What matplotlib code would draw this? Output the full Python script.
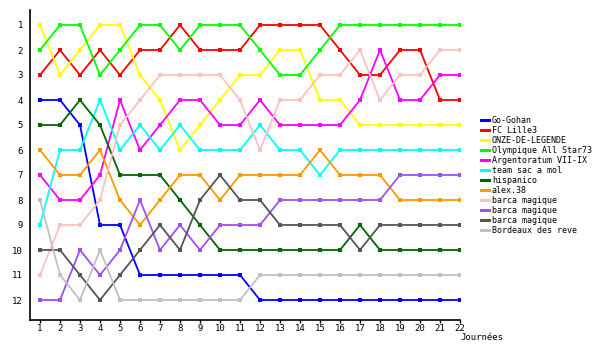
import matplotlib.pyplot as plt
from matplotlib.lines import Line2D

journees = list(range(1, 23))

equipes = ["Go-Gohan", "FC Lille3", "ONZE-DE-LEGENDE", "Olympique All Star73",
           "Argentoratum VII-IX", "team sac a mol", "hispanico", "alex.38",
           "barca magique", "barca magique", "barca magique", "Bordeaux des reve"]

couleurs = ["#0000ff", "#ff0000", "#ffff00", "#00ff00", "#ff00ff", "#00ffff",
            "#006600", "#ff9900", "#ffc0c0", "#a050f0", "#555555", "#c0c0c0"]

go_gohan = [4, 4, 5, 9, 9, 11, 11, 11, 11, 11, 11, 12, 12, 12, 12, 12, 12, 12, 12, 12, 12, 12]
fc_lille3 = [3, 2, 3, 2, 3, 2, 2, 1, 2, 2, 2, 1, 1, 1, 1, 2, 3, 3, 2, 2, 4, 4]
onze_legende = [1, 3, 2, 1, 1, 3, 4, 6, 5, 4, 3, 3, 2, 2, 4, 4, 5, 5, 5, 5, 5, 5]
olympique = [2, 1, 1, 3, 2, 1, 1, 2, 1, 1, 1, 2, 3, 3, 2, 1, 1, 1, 1, 1, 1, 1]
argentoratum = [7, 8, 8, 7, 4, 6, 5, 4, 4, 5, 5, 4, 5, 5, 5, 5, 4, 2, 4, 4, 3, 3]
sac_a_mol = [9, 6, 6, 4, 6, 5, 6, 5, 6, 6, 6, 5, 6, 6, 7, 6, 6, 6, 6, 6, 6, 6]
hispanico = [5, 5, 4, 5, 7, 7, 7, 8, 9, 10, 10, 10, 10, 10, 10, 10, 9, 10, 10, 10, 10, 10]
alex38 = [6, 7, 7, 6, 8, 9, 8, 7, 7, 8, 7, 7, 7, 7, 6, 7, 7, 7, 8, 8, 8, 8]
barca1 = [11, 9, 9, 8, 5, 4, 3, 3, 3, 3, 4, 6, 4, 4, 3, 3, 2, 4, 3, 3, 2, 2]
barca2 = [12, 12, 10, 11, 10, 8, 10, 9, 10, 9, 9, 9, 8, 8, 8, 8, 8, 8, 7, 7, 7, 7]
barca3 = [10, 10, 11, 12, 11, 10, 9, 10, 8, 7, 8, 8, 9, 9, 9, 9, 10, 9, 9, 9, 9, 9]
bordeaux = [8, 11, 12, 10, 12, 12, 12, 12, 12, 12, 12, 11, 11, 11, 11, 11, 11, 11, 11, 11, 11, 11]

classements = [go_gohan, fc_lille3, onze_legende, olympique, argentoratum, sac_a_mol,
               hispanico, alex38, barca1, barca2, barca3, bordeaux]

plt.rcParams['font.family'] = 'DejaVu Sans Mono'

fig = plt.figure(figsize=(6, 3.5), dpi=100)
ax = fig.add_axes([30 / 600, 30 / 350, 430 / 600, 310 / 350])

for nom, coul, rangs in zip(equipes, couleurs, classements):
    ax.plot(journees, rangs, color=coul, lw=1.3, marker='s', markersize=2.2,
            markeredgewidth=0, label=nom)

ax.set_xlim(0.5, 22)
ax.set_ylim(12.8, 0.4)
ax.set_xticks(journees)
ax.set_yticks(range(1, 13))
ax.tick_params(axis='x', length=2, width=1, pad=1, labelsize=6.5)
ax.tick_params(axis='y', length=0, pad=5, labelsize=6.5)
ax.spines['top'].set_visible(False)
ax.spines['right'].set_visible(False)
ax.spines['left'].set_linewidth(1.2)
ax.spines['bottom'].set_linewidth(1.2)

fig.text(460 / 600, 1 - 337 / 350, "Journées", fontsize=6.5, va='center', ha='left')

# legende sans marqueurs, juste un trait
poignees = [Line2D([], [], color=c, lw=2.2) for c in couleurs]
ax.legend(poignees, equipes, loc='upper left', bbox_to_anchor=(481 / 600, 1 - 116 / 350),
          bbox_transform=fig.transFigure, frameon=False, fontsize=6,
          handlelength=0.9, handletextpad=0.4, labelspacing=0.12,
          borderpad=0, borderaxespad=0)

fig.savefig("out.png", dpi=100)
